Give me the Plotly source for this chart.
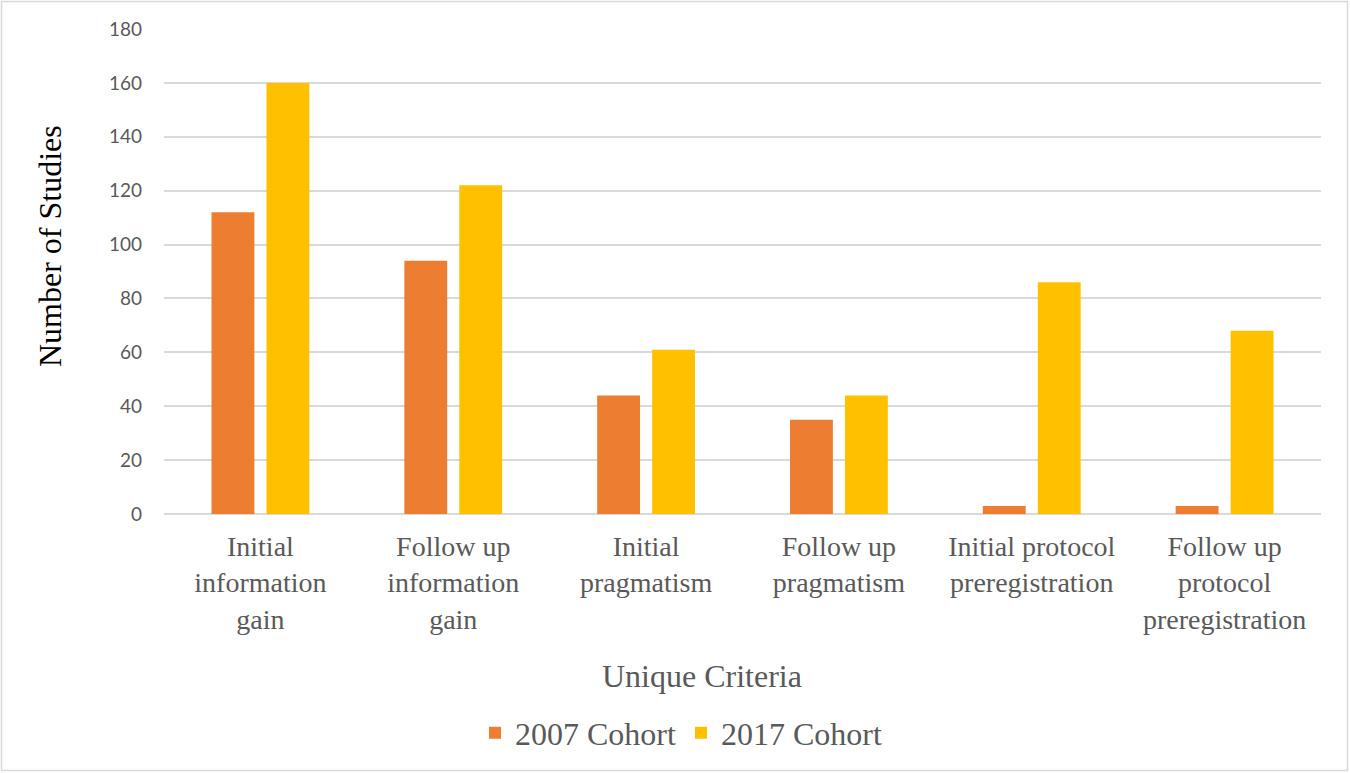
import plotly.graph_objects as go

categories = [
    "Initial<br>information<br>gain",
    "Follow up<br>information<br>gain",
    "Initial<br>pragmatism",
    "Follow up<br>pragmatism",
    "Initial protocol<br>preregistration",
    "Follow up<br>protocol<br>preregistration",
]
cohort_2007 = [112, 94, 44, 35, 3, 3]
cohort_2017 = [160, 122, 61, 44, 86, 68]
series_names = ["2007 Cohort", "2017 Cohort"]
y_ticks = [0, 20, 40, 60, 80, 100, 120, 140, 160, 180]
x_title = "Unique Criteria"
y_title = "Number of Studies"

W, H = 1350, 773
L, R, T, B = 164, 29, 29, 259
PW, PH = W - L - R, H - T - B

def px_x(px):
    return (px - L) / PW

def px_y(py):
    return (H - B - py) / PH

fig = go.Figure()
fig.add_trace(go.Bar(x=categories, y=cohort_2007, name=series_names[0],
                     marker=dict(color="#ED7D31", line=dict(width=0))))
fig.add_trace(go.Bar(x=categories, y=cohort_2017, name=series_names[1],
                     marker=dict(color="#FFC000", line=dict(width=0))))

serif = "Liberation Serif, Times New Roman, serif"
fig.update_layout(
    width=W, height=H,
    margin=dict(l=L, r=R, t=T, b=B, autoexpand=False),
    paper_bgcolor="white", plot_bgcolor="white",
    barmode="group", bargap=0.43, bargroupgap=0.22,
    legend=dict(orientation="h", x=px_x(681), xanchor="center", y=px_y(733), yanchor="middle",
                font=dict(family=serif, size=32, color="#595959"),
                traceorder="normal"),
    xaxis=dict(
        tickfont=dict(family=serif, size=28, color="#595959"),
        showgrid=False, showline=False, ticks="", ticklabelstandoff=13,
    ),
    yaxis=dict(
        range=[0, 180], tickvals=y_ticks,
        tickfont=dict(family="Lato, Carlito, Calibri, sans-serif", size=19, color="#595959"),
        gridcolor="#D9D9D9", gridwidth=1.5,
        zeroline=True, zerolinecolor="#D9D9D9", zerolinewidth=1.5,
        showline=False, ticks="", ticklabelstandoff=21,
    ),
    annotations=[
        dict(text=x_title, xref="paper", yref="paper", x=px_x(702), y=px_y(676),
             xanchor="center", yanchor="middle", showarrow=False,
             font=dict(family=serif, size=32, color="#595959")),
        dict(text=y_title, xref="paper", yref="paper", x=px_x(50), y=px_y(246),
             xanchor="center", yanchor="middle", showarrow=False, textangle=-90,
             font=dict(family=serif, size=32, color="#000000")),
    ],
    shapes=[dict(type="rect", xref="paper", yref="paper",
                 x0=px_x(1.5), x1=px_x(W - 2.5),
                 y0=px_y(H - 2.5), y1=px_y(1.5),
                 line=dict(color="#D9D9D9", width=1.5), fillcolor="rgba(0,0,0,0)", layer="below")],
)

fig.write_html("out.html", config={"displayModeBar": False},
               post_script="document.body.style.margin='0';document.body.style.overflow='hidden';")
